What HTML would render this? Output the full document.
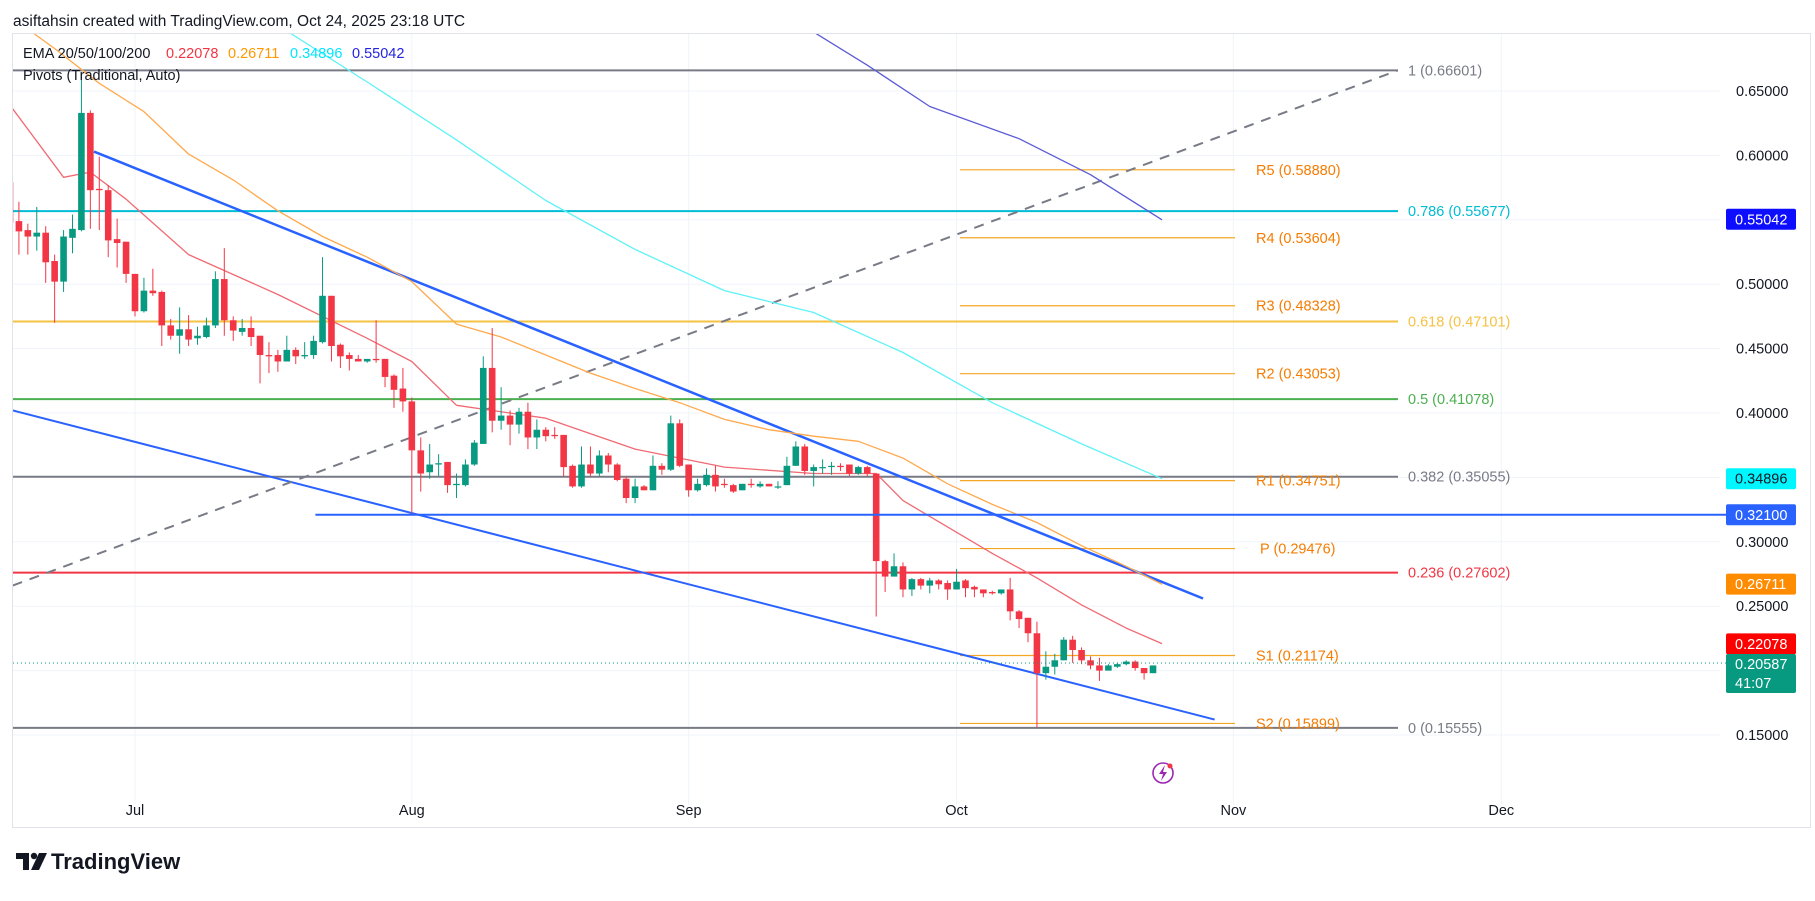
<!DOCTYPE html>
<html><head><meta charset="utf-8">
<style>
html,body{margin:0;padding:0;background:#fff;}
svg{display:block;font-family:"Liberation Sans",sans-serif;}
</style></head>
<body>
<svg id="chart" width="1815" height="901" viewBox="0 0 1815 901" xmlns="http://www.w3.org/2000/svg">
  <rect x="0" y="0" width="1815" height="901" fill="#ffffff"/>
  <text x="13" y="26" font-size="15.5" fill="#131722">asiftahsin created with TradingView.com, Oct 24, 2025 23:18 UTC</text>
  <rect x="12.5" y="33.5" width="1798" height="794" fill="none" stroke="#e0e3eb" stroke-width="1"/>
  <g id="grid"></g>
  <g id="drawings"></g>
  <g id="emas"></g>
  <g id="candles"></g>
  <g id="axis"></g>
  <g id="timeaxis"></g>
  <g>
    <text x="23" y="58" font-size="14.5" fill="#131722">EMA 20/50/100/200</text>
    <text x="166" y="58" font-size="14.5" fill="#f23645">0.22078</text>
    <text x="228" y="58" font-size="14.5" fill="#ff9800">0.26711</text>
    <text x="290" y="58" font-size="14.5" fill="#00e5ff">0.34896</text>
    <text x="352" y="58" font-size="14.5" fill="#2424e0">0.55042</text>
    <text x="23" y="80" font-size="14.5" fill="#131722">Pivots (Traditional, Auto)</text>
  </g>
  <g>
    <circle cx="1163" cy="773" r="10" fill="none" stroke="#9c27b0" stroke-width="1.6"/>
    <path d="M1165 765 L1159 774 L1163 774 L1161 781 L1167 772 L1163 772 Z" fill="#9c27b0"/>
    <circle cx="1170" cy="766" r="2.5" fill="#f23645"/>
  </g>
  <g>
    <path d="M16 853 h13 v17 h-6 v-11 h-7 Z" fill="#131722"/>
    <circle cx="34" cy="856" r="3.2" fill="#131722"/>
    <path d="M39 853 h8 l-8 17 h-8 Z" fill="#131722"/>
    <text x="51" y="869" font-size="22" font-weight="bold" fill="#131722">TradingView</text>
  </g>
</svg>
<script>
// ---------- data ----------
const opens  = [.579,.549,.542,.537,.540,.518,.502,.536,.542,.633,.574,.573,.535,.533,.508,.479,.495,.494,.468,.460,.465,.458,.459,.468,.504,.472,.463,.466,.460,.445,.445,.440,.449,.444,.445,.455,.491,.453,.445,
.442,.440,.442,.442,.429,.419,.409,.371,.354,.360,.362,.344,.344,.360,.376,.435,.394,.398,.391,.401,.381,.387,.383,.383,.359,.343,.360,.353,.367,.360,.349,.334,.343,.340,.359,.356,.392,.360,.340,.344,.352,.345,.344,.340,.345,
.343,.345,.343,.344,.359,.374,.355,.358,.358,.359,.360,.353,.358,.353,.285,.273,.281,.263,.271,.266,.270,.268,.263,.270,.265,.263,.261,.260,.263,.246,
.241,.229,.198,.203,.208,.224,.216,.208,.204,.200,.203,.205,.207,.202,.198];
const highs  = [.586,.564,.547,.560,.545,.523,.542,.554,.664,.635,.599,.577,.551,.533,.508,.505,.512,.495,.473,.482,.476,.467,.474,.510,.528,.475,.473,.475,.460,.455,.449,.460,.451,.455,.460,.521,.491,.454,.447,
.445,.442,.472,.442,.430,.435,.412,.381,.376,.368,.362,.353,.364,.379,.444,.466,.420,.402,.404,.408,.395,.389,.389,.383,.360,.374,.374,.371,.369,.361,.351,.349,.344,.367,.361,.398,.395,.360,.349,.357,.359,.349,.345,.345,.349,
.347,.345,.347,.366,.378,.376,.360,.364,.362,.361,.360,.359,.359,.353,.286,.291,.284,.272,.272,.272,.271,.270,.279,.271,.266,.263,.262,.263,.272,.247,
.241,.238,.215,.213,.226,.227,.218,.211,.210,.205,.206,.208,.208,.202,.204,.208];
const lows   = [.524,.523,.523,.526,.501,.470,.494,.524,.541,.543,.542,.521,.513,.501,.475,.478,.491,.452,.457,.446,.452,.453,.458,.466,.460,.456,.460,.452,.423,.431,.432,.440,.438,.442,.442,.454,.440,.435,.433,
.440,.439,.439,.420,.404,.401,.322,.339,.349,.351,.338,.334,.343,.359,.376,.385,.387,.375,.384,.372,.372,.378,.380,.351,.342,.342,.351,.351,.354,.347,.330,.330,.340,.340,.352,.355,.358,.335,.339,.343,.339,.342,.338,.340,.342,
.342,.343,.341,.344,.359,.352,.343,.353,.352,.355,.351,.352,.351,.242,.261,.273,.257,.258,.263,.260,.263,.255,.263,.257,.257,.257,.259,.259,.239,.233,
.222,.156,.193,.197,.208,.206,.205,.201,.192,.200,.202,.204,.200,.193,.198,.202];
const closes = [.548,.541,.537,.540,.517,.502,.537,.543,.633,.573,.573,.534,.532,.508,.479,.495,.493,.468,.460,.465,.457,.460,.468,.504,.472,.464,.466,.459,.445,.444,.440,.449,.444,.445,.456,.491,.452,.444,.442,
.440,.442,.441,.428,.418,.409,.371,.353,.360,.361,.344,.345,.360,.377,.435,.394,.398,.391,.401,.381,.387,.382,.382,.358,.343,.360,.353,.367,.360,.348,.334,.343,.340,.359,.356,.392,.359,.340,.345,.352,.343,.344,.339,.345,.344,
.345,.343,.343,.359,.374,.355,.358,.358,.359,.358,.353,.358,.353,.285,.273,.281,.263,.271,.266,.270,.267,.263,.269,.264,.263,.260,.260,.263,.246,.240,
.229,.198,.203,.208,.224,.216,.208,.204,.200,.204,.205,.207,.202,.198,.204,.206];
// lows array has one extra element at start of last block; trim/align safely
// EMA samples: candle index -> value
const ema20Idx  = [0,6,9,13,20,30,40,45,50,60,70,80,90,97,100,110,115,120,125,129];
const ema20Val  = [.639,.583,.587,.566,.523,.492,.458,.440,.406,.396,.372,.358,.353,.353,.332,.291,.272,.251,.233,.221];
const ema50Idx  = [0,5,10,15,20,25,30,35,40,45,50,55,60,65,70,75,80,85,90,95,100,105,110,115,120,125,129];
const ema50Val  = [.708,.683,.656,.634,.601,.581,.557,.537,.521,.502,.469,.459,.445,.431,.419,.408,.395,.387,.382,.378,.365,.345,.329,.315,.297,.281,.267];
const ema100Idx = [30,40,50,60,70,80,90,100,110,120,129];
const ema100Val = [.701,.657,.612,.565,.527,.495,.478,.447,.408,.376,.349];
const ema200Idx = [89,96,103,113,121,129];
const ema200Val = [.700,.670,.638,.613,.585,.550];
const priceTicks = [0.65,0.60,0.50,0.45,0.40,0.30,0.25,0.15];
const tickLabels = ["0.65000","0.60000","0.50000","0.45000","0.40000","0.30000","0.25000","0.15000"];
const gridPrices = [0.65,0.60,0.55,0.50,0.45,0.40,0.35,0.30,0.25,0.20,0.15];
const months = ["Jul","Aug","Sep","Oct","Nov","Dec"];
const monthIdx = [14,45,76,106,137,167];
const fibLevels = [0.66601,0.55677,0.47101,0.41078,0.35055,0.27602,0.15555];
const fibNames  = ["1","0.786","0.618","0.5","0.382","0.236","0"];
const fibColors = ["#787b86","#00bcd4","#f5c242","#4caf50","#787b86","#f23645","#787b86"];
const pivotLevels = [0.58880,0.53604,0.48328,0.43053,0.34751,0.29476,0.21174,0.15899];
const pivotNames  = ["R5","R4","R3","R2","R1","P","S1","S2"];
const axisBoxPrices = [0.55042,0.34896,0.32100,0.26711,0.22078];
const axisBoxColors = ["#0d0dff","#00f7ff","#2962ff","#ff8c00","#ff0000"];
const axisBoxText   = ["#ffffff","#131722","#ffffff","#ffffff","#ffffff"];
const lastPrice = 0.20587;
// trend line anchors (candle index, price)
const upperChannel = [[9.4,0.603],[133.6,0.256]];
const lowerChannel = [[0.3,0.402],[134.9,0.162]];
const dashedTrend  = [[0.3,0.266],[155.4,0.666]];
const supportLine = {startIdx:34.2, price:0.321};

// ---------- axes ----------
const L=13, R=1720, T=34, B=805;
function xOf(i){return 135 + 8.93*(i-14);}
function yOf(p){return 91 + (0.65-p)*1288;}
const NS="http://www.w3.org/2000/svg";
function mk(tag,attrs,parent){const e=document.createElementNS(NS,tag);for(const k in attrs)e.setAttribute(k,attrs[k]);parent.appendChild(e);return e;}
const svg=document.getElementById('chart');
const defs=mk('defs',{},svg);
const cp=mk('clipPath',{id:'plot'},defs);
mk('rect',{x:L,y:T,width:R-L,height:B-T},cp);

// grid
const grid=document.getElementById('grid');
gridPrices.forEach(p=>{
  const l=mk('line',{x1:L,x2:R,y1:yOf(p),y2:yOf(p),stroke:'#f0f3fa','stroke-width':1},grid);
  
  
});
monthIdx.forEach(i=>{
  const l=mk('line',{x1:xOf(i),x2:xOf(i),y1:T,y2:B,stroke:'#f0f3fa','stroke-width':1},grid);
  
  
});

// drawings
const dr=document.getElementById('drawings');
dr.setAttribute('clip-path','url(#plot)');
const dl=mk('g',{},svg); // labels unclipped
fibLevels.forEach((p,k)=>{
  const l=mk('line',{x1:L,x2:1398,y1:yOf(p),y2:yOf(p),stroke:fibColors[k],'stroke-width':2},dr);
  
  
  const t=mk('text',{x:1408,y:yOf(p)+5,'font-size':14.5,fill:fibColors[k]},dl);
  t.textContent=fibNames[k]+' ('+p.toFixed(5)+')';
  
  
});
pivotLevels.forEach((p,k)=>{
  const l=mk('line',{x1:960,x2:1235,y1:yOf(p),y2:yOf(p),stroke:'#f5a623','stroke-width':1.2},dr);
  
  
  const t=mk('text',{x:pivotNames[k]==='P'?1260:1256,y:yOf(p)+5,'font-size':14.5,fill:'#f57c00'},dl);
  t.textContent=pivotNames[k]+' ('+p.toFixed(5)+')';
  
  
});
const sup=mk('line',{x1:xOf(supportLine.startIdx),x2:1726,y1:yOf(supportLine.price),y2:yOf(supportLine.price),stroke:'#2962ff','stroke-width':2},svg);


function seg(a,col,w,dash,name){
  const l=mk('line',{x1:xOf(a[0][0]),y1:yOf(a[0][1]),x2:xOf(a[1][0]),y2:yOf(a[1][1]),stroke:col,'stroke-width':w},dr);
  if(dash)l.setAttribute('stroke-dasharray',dash);
  return l;
}
const uc=seg(upperChannel,'#2962ff',2.5,null);


const lc=seg(lowerChannel,'#2962ff',2,null);


const dt=seg(dashedTrend,'#787b86',2,'10,8');



// EMAs
const eg=document.getElementById('emas');
eg.setAttribute('clip-path','url(#plot)');
function ema(idx,val,col,name){
  const pts=idx.map((i,k)=>xOf(i).toFixed(1)+','+yOf(val[k]).toFixed(1)).join(' ');
  const pl=mk('polyline',{points:pts,fill:'none',stroke:col,'stroke-width':1.3,'stroke-linejoin':'round'},eg);
  return pl;
}
let e1=ema(ema20Idx,ema20Val,'#f06a73');


let e2=ema(ema50Idx,ema50Val,'#ffa94d');


let e3=ema(ema100Idx,ema100Val,'#5ff2f7');


let e4=ema(ema200Idx,ema200Val,'#5b5bd6');



// candles
const cg=document.getElementById('candles');
cg.setAttribute('clip-path','url(#plot)');
const n=Math.min(opens.length,closes.length);
for(let i=0;i<n;i++){
  const o=opens[i],c=closes[i];
  const h=Math.max(highs[i]!==undefined?highs[i]:Math.max(o,c),o,c);
  const lo=Math.min(lows[i]!==undefined?lows[i]:Math.min(o,c),o,c);
  const col=c>=o?'#089981':'#f23645';
  const x=xOf(i);
  const g=mk('g',{},cg);
  
  
  mk('line',{x1:x,x2:x,y1:yOf(h),y2:yOf(lo),stroke:col,'stroke-width':1},g);
  const yt=yOf(Math.max(o,c)),yb=yOf(Math.min(o,c));
  mk('rect',{x:x-3.3,y:yt,width:6.6,height:Math.max(1.2,yb-yt),fill:col},g);
}

// last price dotted line
const lp=mk('line',{x1:L,x2:1726,y1:yOf(lastPrice),y2:yOf(lastPrice),stroke:'#089981','stroke-width':1,'stroke-dasharray':'1,3'},svg);



// price axis
const ax=document.getElementById('axis');
priceTicks.forEach((p,k)=>{
  const t=mk('text',{x:1736,y:yOf(p)+5,'font-size':14.5,fill:'#131722'},ax);
  t.textContent=tickLabels[k];
  
  
});
axisBoxPrices.forEach((p,k)=>{
  const g=mk('g',{},ax);
  
  
  mk('rect',{x:1726,y:yOf(p)-10.5,width:70,height:21,rx:2,fill:axisBoxColors[k]},g);
  const t=mk('text',{x:1735,y:yOf(p)+5,'font-size':14.5,fill:axisBoxText[k]},g);
  t.textContent=p.toFixed(5);
});
const lg=mk('g',{},ax);


mk('rect',{x:1726,y:654,width:70,height:39,rx:2,fill:'#089981'},lg);
const lt1=mk('text',{x:1735,y:669,'font-size':14.5,fill:'#ffffff'},lg);lt1.textContent=lastPrice.toFixed(5);
const lt2=mk('text',{x:1735,y:688,'font-size':14.5,fill:'#ffffff'},lg);lt2.textContent='41:07';

// time axis
const ta=document.getElementById('timeaxis');
months.forEach((m,k)=>{
  const t=mk('text',{x:xOf(monthIdx[k]),y:815,'font-size':14.5,fill:'#131722','text-anchor':'middle'},ta);
  t.textContent=m;
  
  
});
</script>
</body></html>
